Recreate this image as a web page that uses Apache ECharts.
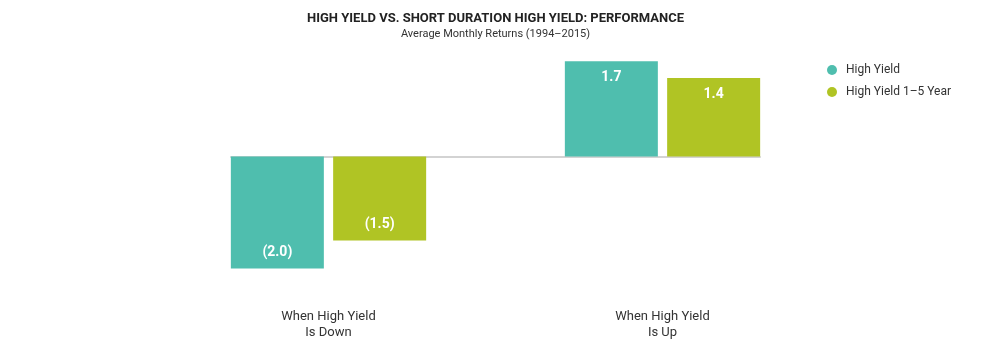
<!DOCTYPE html>
<html lang="en">
<head>
    <meta charset="UTF-8">
    <title>High Yield vs. Short Duration High Yield</title>
    <style>
        html, body { margin: 0; padding: 0; background: #fff; }
        #main { width: 991px; height: 353px; }
    </style>
</head>
<body>
<div id="main"></div>
<script src="https://cdn.jsdelivr.net/npm/echarts@6/dist/echarts.min.js"></script>
<script>
    // data
    var categories = ['When High Yield\nIs Down', 'When High Yield\nIs Up'];
    var seriesNames = ['High Yield', 'High Yield 1\u20135 Year'];
    var highYield = [-2.0, 1.7];
    var highYield15 = [-1.5, 1.4];
    var colors = ['#4fbeae', '#b0c424'];

    var font = 'Roboto, "Open Sans", sans-serif';

    // negatives shown in parentheses, label sits at the far end of the bar
    function makeData(values) {
        return values.map(function (v) {
            return {
                value: v,
                label: { position: v < 0 ? 'insideBottom' : 'insideTop' }
            };
        });
    }
    function fmt(p) {
        var v = p.value;
        return v < 0 ? '(' + Math.abs(v).toFixed(1) + ')' : v.toFixed(1);
    }

    var chart = echarts.init(document.getElementById('main'));
    var labelStyle = {
        show: true,
        color: '#fff',
        fontFamily: font,
        fontWeight: 'bold',
        fontSize: 14,
        distance: 9,
        formatter: fmt
    };

    var option = {
        animation: false,
        title: {
            text: 'HIGH YIELD VS. SHORT DURATION HIGH YIELD: PERFORMANCE',
            subtext: 'Average Monthly Returns (1994\u20132015)',
            left: 'center',
            top: 7,
            itemGap: 4,
            textStyle: { fontFamily: font, fontWeight: 'bold', fontSize: 13, color: '#222' },
            subtextStyle: { fontFamily: font, fontSize: 11, color: '#333' }
        },
        legend: {
            orient: 'vertical',
            left: 822,
            top: 59,
            icon: 'circle',
            itemWidth: 10,
            itemHeight: 10,
            itemGap: 10,
            textStyle: { fontFamily: font, fontSize: 12, color: '#333', padding: [0, 0, 0, 4] },
            data: seriesNames
        },
        grid: [
            { left: 161.5, right: 161.5, top: 44.5, bottom: 56.5 },
            // second grid only carries the zero line across the bars
            { left: 231, right: 231, top: 44.5, bottom: 56.5 }
        ],
        xAxis: [
            {
                type: 'category',
                gridIndex: 0,
                data: categories,
                axisLine: { show: false, onZero: false },
                axisTick: { show: false },
                axisLabel: {
                    fontFamily: font, fontSize: 13, color: '#333',
                    lineHeight: 16, margin: 12
                }
            },
            {
                type: 'value',
                gridIndex: 1,
                min: 0, max: 1,
                axisLine: { show: true, onZero: true, lineStyle: { color: '#d3d3d3', width: 2 } },
                axisTick: { show: false },
                axisLabel: { show: false },
                splitLine: { show: false }
            }
        ],
        yAxis: [
            {
                type: 'value', gridIndex: 0, min: -2.5, max: 2,
                show: false
            },
            {
                type: 'value', gridIndex: 1, min: -2.5, max: 2,
                show: false
            }
        ],
        series: [
            {
                name: seriesNames[0],
                type: 'bar',
                xAxisIndex: 0, yAxisIndex: 0,
                barWidth: 93,
                barGap: '10%',
                itemStyle: { color: colors[0] },
                label: labelStyle,
                data: makeData(highYield)
            },
            {
                name: seriesNames[1],
                type: 'bar',
                xAxisIndex: 0, yAxisIndex: 0,
                barWidth: 93,
                barGap: '10%',
                itemStyle: { color: colors[1] },
                label: labelStyle,
                data: makeData(highYield15)
            }
        ]
    };
    chart.setOption(option);
</script>
</body>
</html>
